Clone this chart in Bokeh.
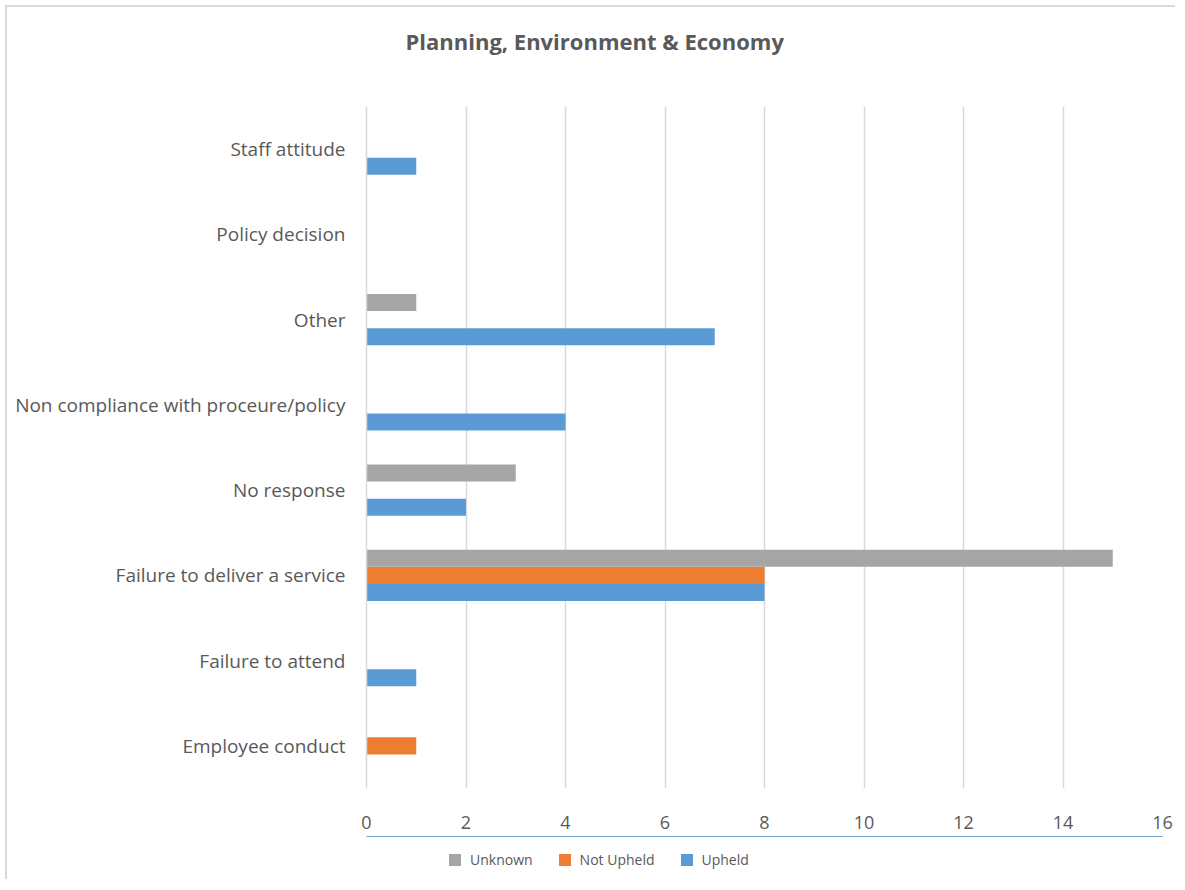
from bokeh.plotting import figure
from bokeh.models import ColumnDataSource, FactorRange, Range1d, SingleIntervalTicker, Legend, LegendItem
from bokeh.layouts import column
from bokeh.transform import dodge
from bokeh.embed import file_html
from bokeh.resources import INLINE

categories = ["Employee conduct", "Failure to attend", "Failure to deliver a service",
              "No response", "Non compliance with proceure/policy", "Other",
              "Policy decision", "Staff attitude"]
upheld = [0, 1, 8, 2, 4, 7, 0, 1]
not_upheld = [1, 0, 8, 0, 0, 0, 0, 0]
unknown = [0, 0, 15, 3, 0, 1, 0, 0]
series_names = ["Unknown", "Not Upheld", "Upheld"]
series_fields = ["unknown", "not_upheld", "upheld"]
series_colors = ["#a5a5a5", "#ed7d31", "#5b9bd5"]
x_ticks_interval = 2

source = ColumnDataSource(dict(cat=categories, upheld=upheld, not_upheld=not_upheld, unknown=unknown))

FONT = "Open Sans"
TXT = "#595959"

p = figure(width=1170, height=831, y_range=FactorRange(*categories), x_range=Range1d(0, 16),
           output_backend="svg", toolbar_location=None,
           min_border_left=359, min_border_right=15, min_border_top=92, min_border_bottom=50,
           title="Planning, Environment & Economy\n")
p.styles = {"margin-left": "5px", "margin-top": "5px",
            "border-left": "2px solid #d9d9d9", "border-top": "2px solid #d9d9d9"}

p.hbar(y=dodge("cat", -0.2, range=p.y_range), right="upheld", left=0, height=0.2,
       source=source, fill_color=series_colors[2], line_color=None)
p.hbar(y=dodge("cat", 0.0, range=p.y_range), right="not_upheld", left=0, height=0.2,
       source=source, fill_color=series_colors[1], line_color=None)
p.hbar(y=dodge("cat", 0.2, range=p.y_range), right="unknown", left=0, height=0.2,
       source=source, fill_color=series_colors[0], line_color=None)

p.outline_line_color = None
p.background_fill_color = "white"
p.border_fill_color = "white"

p.title.text_font = FONT
p.title.text_font_size = "22px"
p.title.text_font_style = "bold"
p.title.text_color = TXT
p.title.align = "left"
p.title.offset = 39
p.title.vertical_align = "top"
p.title.standoff = 37

p.xaxis.ticker = SingleIntervalTicker(interval=x_ticks_interval)
p.xaxis.axis_line_color = None
p.xaxis.major_tick_line_color = None
p.xaxis.minor_tick_line_color = None
p.xaxis.major_label_text_font = FONT
p.xaxis.major_label_text_font_size = "18px"
p.xaxis.major_label_text_color = TXT
p.xaxis.major_label_standoff = 21

p.yaxis.axis_line_color = "#d9d9d9"
p.yaxis.axis_line_width = 1.5
p.yaxis.major_tick_line_color = None
p.yaxis.minor_tick_line_color = None
p.yaxis.major_label_text_font = FONT
p.yaxis.major_label_text_font_size = "19px"
p.yaxis.major_label_text_color = TXT
p.yaxis.major_label_standoff = 15

p.xgrid.grid_line_color = "#d9d9d9"
p.xgrid.grid_line_width = 1.5
p.ygrid.grid_line_color = None

# legend strip below the chart (a separate borderless figure); its swatch renderers
# use the same series data, have zero height and lie outside this strip's visible range
lp = figure(width=1170, height=43, x_range=Range1d(0, 1), y_range=Range1d(-3, -2),
            x_axis_type=None, y_axis_type=None, output_backend="svg", toolbar_location=None,
            min_border=0)
lp.styles = {"margin-left": "5px", "border-left": "2px solid #d9d9d9"}
lp.outline_line_color = None
lp.background_fill_color = "white"
lp.border_fill_color = "white"

items = []
for name, field, color in zip(series_names, series_fields, series_colors):
    r = lp.hbar(y=field, right=field, left=0, height=0, source=source,
                fill_color=color, line_color=None)
    items.append(LegendItem(label=name, renderers=[r]))

legend = Legend(items=items, orientation="horizontal", location=(81, 10),
                padding=0, margin=0, spacing=24, label_standoff=8,
                glyph_width=15, glyph_height=15, label_height=20,
                label_text_font=FONT, label_text_font_size="14px", label_text_color=TXT,
                border_line_color=None, background_fill_alpha=0)
lp.add_layout(legend, "center")

layout = column(p, lp)
open("out.html", "w").write(file_html(layout, INLINE))
